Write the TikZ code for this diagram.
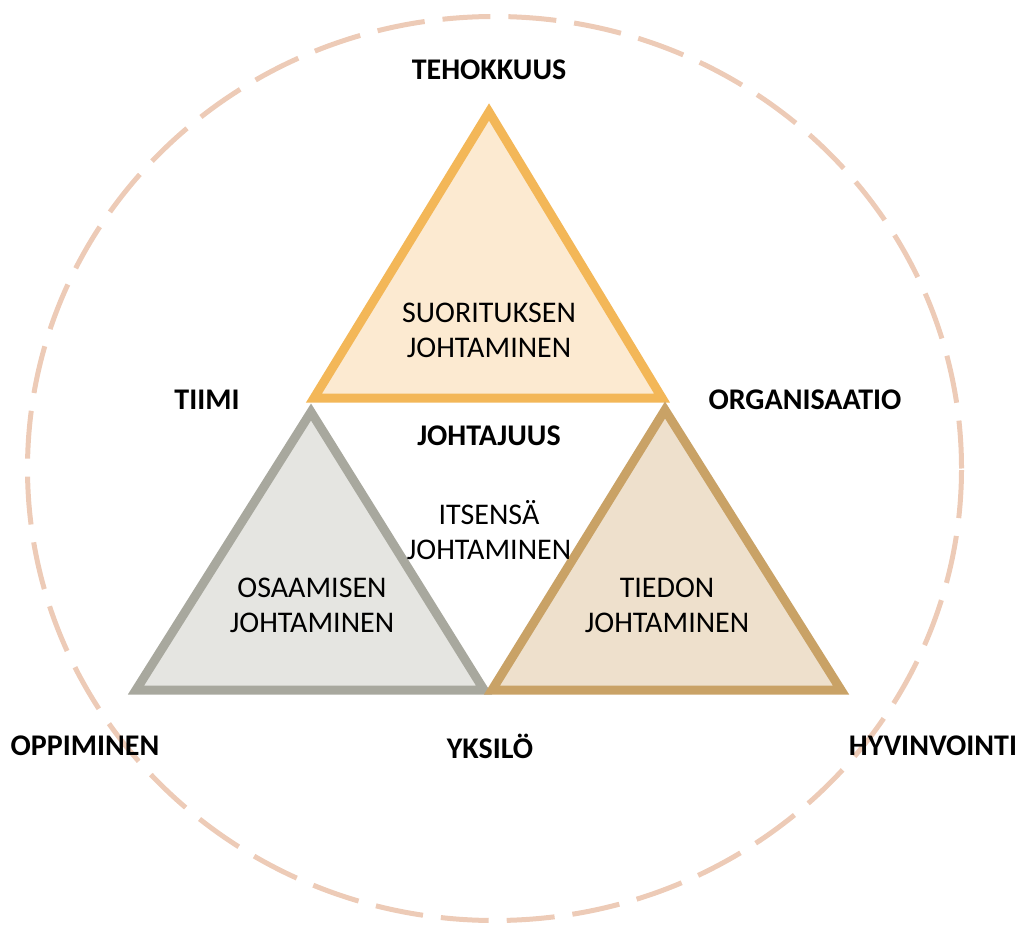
\documentclass[tikz,border=0pt]{standalone}
\usepackage{fontspec}
\setmainfont{Carlito}
\usetikzlibrary{positioning}
\definecolor{perfline}{RGB}{243,183,88}
\definecolor{perfbg}{RGB}{252,234,209}
\definecolor{skillline}{RGB}{168,168,158}
\definecolor{skillbg}{RGB}{229,229,225}
\definecolor{infoline}{RGB}{201,162,102}
\definecolor{infobg}{RGB}{238,224,204}
\definecolor{ringcol}{RGB}{237,203,183}

\begin{document}
\begin{tikzpicture}[x=0.5pt,y=-0.5pt,
    tri/.style={line width=4.5pt,line join=miter},
    key/.style={inner sep=0pt,font=\fontsize{15}{17}\selectfont\bfseries},
    area/.style={inner sep=0pt,align=center,font=\fontsize{15}{17.5}\selectfont}]
  \useasboundingbox (0,0) rectangle (1020,924);
  % outer ring
  \coordinate (mid) at (494.5,468.5);
  \draw[ringcol,line width=2.5pt,dash pattern=on 24pt off 9pt]
    (mid) ellipse [x radius=233.5pt,y radius=226pt];
  % corners of the three triangles
  \coordinate (sTop) at (489,112);
  \coordinate (sLeft) at (314,398);
  \coordinate (sRight) at (662,398);
  \coordinate (oTop) at (311,412);
  \coordinate (oLeft) at (136,690);
  \coordinate (oRight) at (484,690);
  \coordinate (tTop) at (665,410);
  \coordinate (tLeft) at (492,690);
  \coordinate (tRight) at (841,690);
  \draw[tri,draw=perfline,fill=perfbg] (sTop) -- (sLeft) -- (sRight) -- cycle;
  \draw[tri,draw=skillline,fill=skillbg] (oTop) -- (oLeft) -- (oRight) -- cycle;
  \draw[tri,draw=infoline,fill=infobg] (tTop) -- (tLeft) -- (tRight) -- cycle;
  % texts
  \node[area] (suor) at (489,330) {SUORITUKSEN\\JOHTAMINEN};
  \node[area] (osaa) at (312,605) {OSAAMISEN\\JOHTAMINEN};
  \node[area] (tieto) at (667,605) {TIEDON\\JOHTAMINEN};
  \node[area] (itse) at (489,530) {ITSENSÄ\\JOHTAMINEN};
  \node[key] (johtajuus) at (489,436) {JOHTAJUUS};
  \node[key] (tehokkuus) at (489,70) {TEHOKKUUS};
  \node[key] (tiimi) at (207,400) {TIIMI};
  \node[key] (organisaatio) at (805,400) {ORGANISAATIO};
  \node[key] (oppiminen) at (85,746) {OPPIMINEN};
  \node[key] (yksilo) at (490,746) {YKSILÖ};
  \node[key] (hyvinvointi) at (933,746) {HYVINVOINTI};
\end{tikzpicture}
\end{document}
